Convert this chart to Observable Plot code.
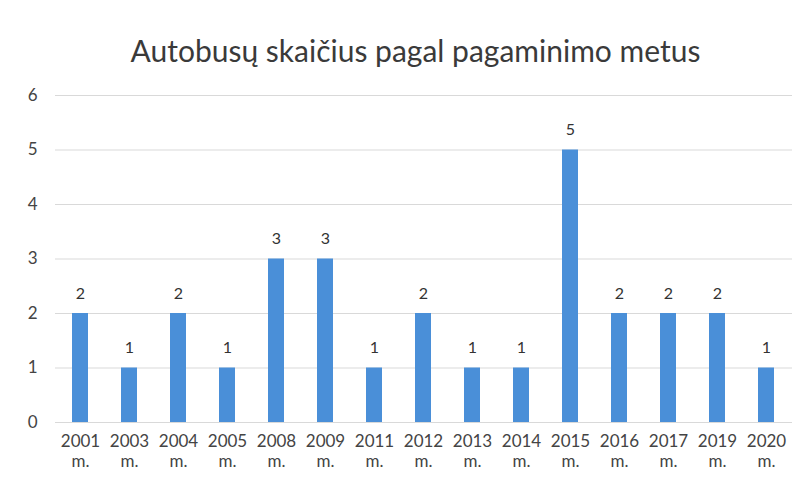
<!DOCTYPE html>
<html>
<head>
<meta charset="utf-8">
<script src="https://cdn.jsdelivr.net/npm/d3@7"></script>
<script src="https://cdn.jsdelivr.net/npm/@observablehq/plot@0.6"></script>
<style>
  html, body { margin: 0; padding: 0; background: #fff; }
  #wrap { width: 806px; height: 501px; position: relative; font-family: Lato, "Open Sans", sans-serif; }
  #title { height: 75px; line-height: 100px; text-align: center; font-size: 30px; color: #3a3a3a; padding-left: 25px; box-sizing: border-box; }
</style>
</head>
<body>
<div id="wrap">
  <div id="title">Autobusų skaičius pagal pagaminimo metus</div>
  <div id="chart"></div>
</div>
<script>
const years = ["2001 m.","2003 m.","2004 m.","2005 m.","2008 m.","2009 m.","2011 m.","2012 m.","2013 m.","2014 m.","2015 m.","2016 m.","2017 m.","2019 m.","2020 m."];
const counts = [2,1,2,1,3,3,1,2,1,1,5,2,2,2,1];
const yTicks = [0,1,2,3,4,5,6];

const data = years.map((y, i) => ({year: y, count: counts[i]}));

const chart = Plot.plot({
  width: 806,
  height: 426,
  marginLeft: 55,
  marginRight: 14,
  marginTop: 20,
  marginBottom: 79,
  style: {fontFamily: "Lato, 'Open Sans', sans-serif", fontSize: "17px", color: "#444", background: "#fff"},
  x: {domain: years, paddingInner: 0.67, paddingOuter: 0.335, label: null},
  y: {domain: [0, 6], label: null},
  marks: [
    Plot.gridY(yTicks, {stroke: "#d9d9d9", strokeOpacity: 1, strokeWidth: 1}),
    Plot.barY(data, {x: "year", y: "count", fill: "#4a8fd8"}),
    Plot.text(data, {x: "year", y: "count", text: d => String(d.count), dy: -20, fontSize: 16, fill: "#333"}),
    Plot.axisY(yTicks, {tickSize: 0, tickPadding: 18, fontSize: 17, fill: "#444", tickFormat: d => String(d)}),
    Plot.axisX({tickSize: 0, tickPadding: 10, fontSize: 17, fill: "#444", lineHeight: 1.2, tickFormat: d => d.replace(" ", "\n")})
  ]
});
document.getElementById("chart").appendChild(chart);
</script>
</body>
</html>
